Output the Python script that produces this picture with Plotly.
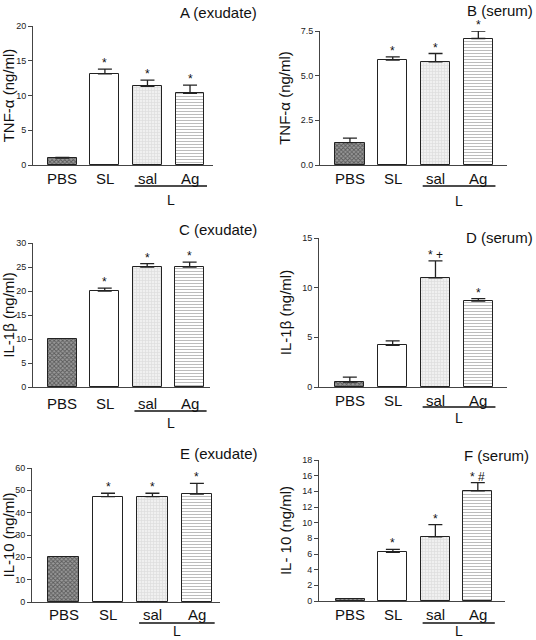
import plotly.graph_objects as go

W, H = 536, 640

categories = ["PBS", "SL", "sal", "Ag"]

tnf_exudate = [1.0, 13.1, 11.3, 10.3]
tnf_exudate_err = [0.1, 0.7, 0.9, 1.2]
tnf_serum = [1.25, 5.87, 5.77, 7.08]
tnf_serum_err = [0.25, 0.18, 0.47, 0.41]
il1_exudate = [10.0, 20.0, 25.0, 25.0]
il1_exudate_err = [0.0, 0.6, 0.7, 1.0]
il1_serum = [0.5, 4.2, 11.0, 8.65]
il1_serum_err = [0.5, 0.45, 1.7, 0.25]
il10_exudate = [20.0, 47.2, 47.2, 48.3]
il10_exudate_err = [0.0, 1.5, 1.5, 4.8]
il10_serum = [0.2, 6.2, 8.2, 14.05]
il10_serum_err = [0.0, 0.4, 1.55, 1.05]

sig_A = ["", "*", "*", "*"]
sig_B = ["", "*", "*", "*"]
sig_C = ["", "*", "*", "*"]
sig_D = ["", "", "* +", "*"]
sig_E = ["", "*", "*", "*"]
sig_F = ["", "*", "*", "* #"]

# px: x-axis extent (pixels), py: y-axis extent (pixels), tx/ty: title right edge / centre
# lab/line/L: vertical offsets below the x axis of category labels, group line, "L"
panels = [
    dict(title="A (exudate)", ylab="TNF-α (ng/ml)", vals=tnf_exudate, err=tnf_exudate_err, sig=sig_A,
         yr=[0, 20], dt=5, fmt="", px=(33, 213), py=(26, 165), xr=[-0.69, 3.54], tx=259, ty=12,
         lab=13, line=21, L=35),
    dict(title="B (serum)", ylab="TNF-α (ng/ml)", vals=tnf_serum, err=tnf_serum_err, sig=sig_B,
         yr=[0, 7.5], dt=2.5, fmt=".1f", px=(320, 507), py=(31, 165), xr=[-0.70, 3.67], tx=535, ty=10,
         lab=13, line=21, L=36),
    dict(title="C (exudate)", ylab="IL-1β (ng/ml)", vals=il1_exudate, err=il1_exudate_err, sig=sig_C,
         yr=[0, 30], dt=5, fmt="", px=(33, 210), py=(243, 387), xr=[-0.69, 3.48], tx=259, ty=229,
         lab=16, line=24, L=36),
    dict(title="D (serum)", ylab="IL-1β (ng/ml)", vals=il1_serum, err=il1_serum_err, sig=sig_D,
         yr=[0, 15], dt=5, fmt="", px=(319, 507), py=(238, 387), xr=[-0.72, 3.67], tx=535, ty=237,
         lab=13, line=20, L=31),
    dict(title="E (exudate)", ylab="IL-10 (ng/ml)", vals=il10_exudate, err=il10_exudate_err, sig=sig_E,
         yr=[0, 60], dt=10, fmt="", px=(32, 220), py=(468, 602), xr=[-0.71, 3.52], tx=260, ty=453,
         lab=12, line=21, L=29),
    dict(title="F (serum)", ylab="IL- 10 (ng/ml)", vals=il10_serum, err=il10_serum_err, sig=sig_F,
         yr=[0, 18], dt=2, fmt="", px=(319, 505), py=(460, 601), xr=[-0.74, 3.64], tx=531, ty=455,
         lab=13, line=22, L=30),
]

patterns = [
    dict(shape="x", fgcolor="#1a1a1a", bgcolor="#9a9a9a", size=3, solidity=0.5),
    dict(shape="", fgcolor="#000", bgcolor="white"),
    dict(shape="+", fgcolor="#c8c8c8", bgcolor="#f0f0f0", size=3, solidity=0.4),
    dict(shape="-", fgcolor="#7a7a7a", bgcolor="white", size=3, solidity=0.35),
]

FONT = "Liberation Sans, Arial, sans-serif"
fig = go.Figure()
annotations = []
shapes = []

for i, p in enumerate(panels):
    n = "" if i == 0 else str(i + 1)
    xa, ya = "x" + n, "y" + n
    xs = list(range(len(categories)))
    hpx = p["py"][1] - p["py"][0]
    for j in xs:
        fig.add_trace(go.Bar(
            x=[j], y=[p["vals"][j]], width=0.68,
            marker=dict(color=patterns[j].get("bgcolor", "white"), pattern=patterns[j],
                        line=dict(color="#222", width=1)),
            error_y=dict(type="data", symmetric=False, array=[p["err"][j]], arrayminus=[0],
                         color="#222", thickness=1.3, width=7, visible=p["err"][j] > 0),
            xaxis=xa, yaxis=ya, showlegend=False, hoverinfo="skip",
        ))
        if p["sig"][j]:
            annotations.append(dict(x=j, y=p["vals"][j] + p["err"][j], xref=xa, yref=ya,
                                    text=p["sig"][j], showarrow=False, yanchor="bottom",
                                    yshift=-3, font=dict(size=12, family=FONT, color="#111")))
        annotations.append(dict(x=j, y=0, xref=xa, yref=ya + " domain", text=categories[j],
                                showarrow=False, yanchor="middle", yshift=-p["lab"],
                                font=dict(size=15, family=FONT, color="#111")))
    # group label L
    shapes.append(dict(type="line", xref=xa, yref=ya + " domain", x0=1.7, x1=3.4,
                       y0=-p["line"] / hpx, y1=-p["line"] / hpx,
                       line=dict(color="#111", width=1.5)))
    annotations.append(dict(x=2.55, y=0, xref=xa, yref=ya + " domain", text="L", showarrow=False,
                            yanchor="middle", yshift=-p["L"], font=dict(size=14, family=FONT, color="#111")))
    # panel title
    annotations.append(dict(x=p["tx"] / W, y=1 - p["ty"] / H, xref="paper", yref="paper",
                            text=p["title"], showarrow=False, xanchor="right", yanchor="middle",
                            font=dict(size=15, family=FONT, color="#111")))
    ticks = []
    t = p["yr"][0]
    while t <= p["yr"][1] + 1e-9:
        ticks.append(round(t, 2))
        t += p["dt"]
    ticktext = [format(v, p["fmt"]) if p["fmt"] else str(int(v)) for v in ticks]
    fig.update_layout(**{
        ("xaxis" + n): dict(domain=[p["px"][0] / W, p["px"][1] / W], range=p["xr"], anchor=ya,
                            showgrid=False, zeroline=False, showline=True, linecolor="#444", linewidth=1,
                            tickvals=xs, ticktext=[""] * 4, ticks="", fixedrange=True, automargin=False),
        ("yaxis" + n): dict(domain=[1 - p["py"][1] / H, 1 - p["py"][0] / H], range=p["yr"], anchor=xa,
                            showgrid=False, zeroline=False, showline=True, linecolor="#444", linewidth=1,
                            tickvals=ticks, ticktext=ticktext, ticks="outside", ticklen=4,
                            tickcolor="#444", tickfont=dict(size=9, family=FONT, color="#222"),
                            automargin=False,
                            title=dict(text=p["ylab"], font=dict(size=15, family=FONT, color="#111"),
                                       standoff=6)),
    })

fig.update_layout(width=W, height=H, margin=dict(l=0, r=0, t=0, b=0, autoexpand=False),
                  paper_bgcolor="white", plot_bgcolor="white", bargap=0,
                  annotations=annotations, shapes=shapes, font=dict(family=FONT))
fig.write_html("out.html", config={"displayModeBar": False},
               post_script="document.body.style.margin='0';document.body.style.overflow='hidden';")
